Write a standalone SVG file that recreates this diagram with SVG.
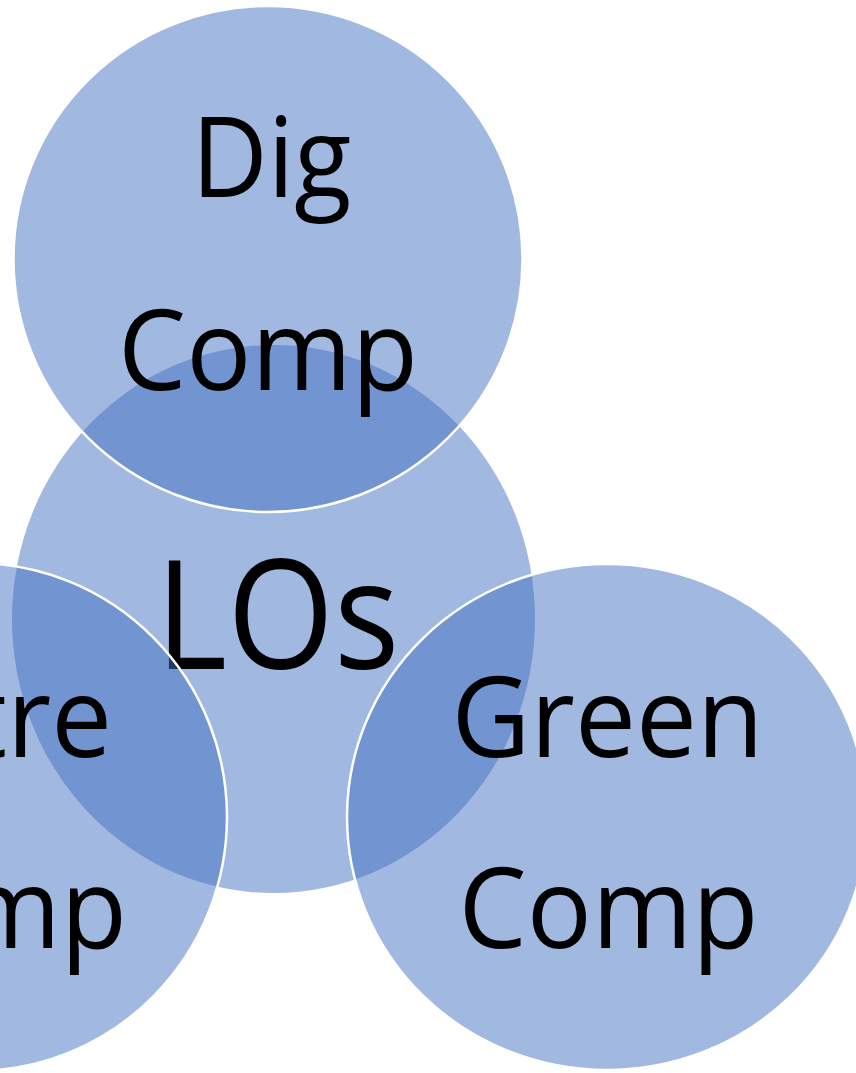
<svg xmlns="http://www.w3.org/2000/svg" width="856" height="1073" viewBox="0 0 856 1073">
  <style>
    .bg { fill: #ffffff; }
    .disc { fill: #4472C4; fill-opacity: 0.5; stroke: #ffffff; stroke-width: 2.5; }
    .core { fill: #4472C4; fill-opacity: 0.5; stroke: none; }
    .lbl { font-family: "Open Sans", "Noto Sans", "Liberation Sans", sans-serif; font-size: 111px; fill: #000000; text-anchor: middle; }
    .big { font-size: 152px; }
  </style>
  <rect class="bg" x="0" y="0" width="856" height="1073"/>
  <g id="node-los">
    <ellipse class="core" cx="273.5" cy="619" rx="261.5" ry="274"/>
    <text class="lbl big" x="277.5" y="669" textLength="244" lengthAdjust="spacingAndGlyphs">LOs</text>
  </g>
  <g id="node-digcomp">
    <ellipse class="disc" cx="268" cy="259" rx="254.5" ry="253"/>
    <text class="lbl" x="271.5" y="197" textLength="160" lengthAdjust="spacingAndGlyphs">Dig</text>
    <text class="lbl" x="268" y="390" textLength="300" lengthAdjust="spacingAndGlyphs">Comp</text>
  </g>
  <g id="node-entrecomp">
    <ellipse class="disc" cx="-25" cy="817" rx="252" ry="254"/>
    <text class="lbl" x="-23" y="757" textLength="270" lengthAdjust="spacingAndGlyphs">Entre</text>
    <text class="lbl" x="-23" y="948" textLength="300" lengthAdjust="spacingAndGlyphs">Comp</text>
  </g>
  <g id="node-greencomp">
    <ellipse class="disc" cx="607" cy="817" rx="260" ry="253"/>
    <text class="lbl" x="607.6" y="757" textLength="312" lengthAdjust="spacingAndGlyphs">Green</text>
    <text class="lbl" x="608.5" y="948" textLength="300" lengthAdjust="spacingAndGlyphs">Comp</text>
  </g>
</svg>
